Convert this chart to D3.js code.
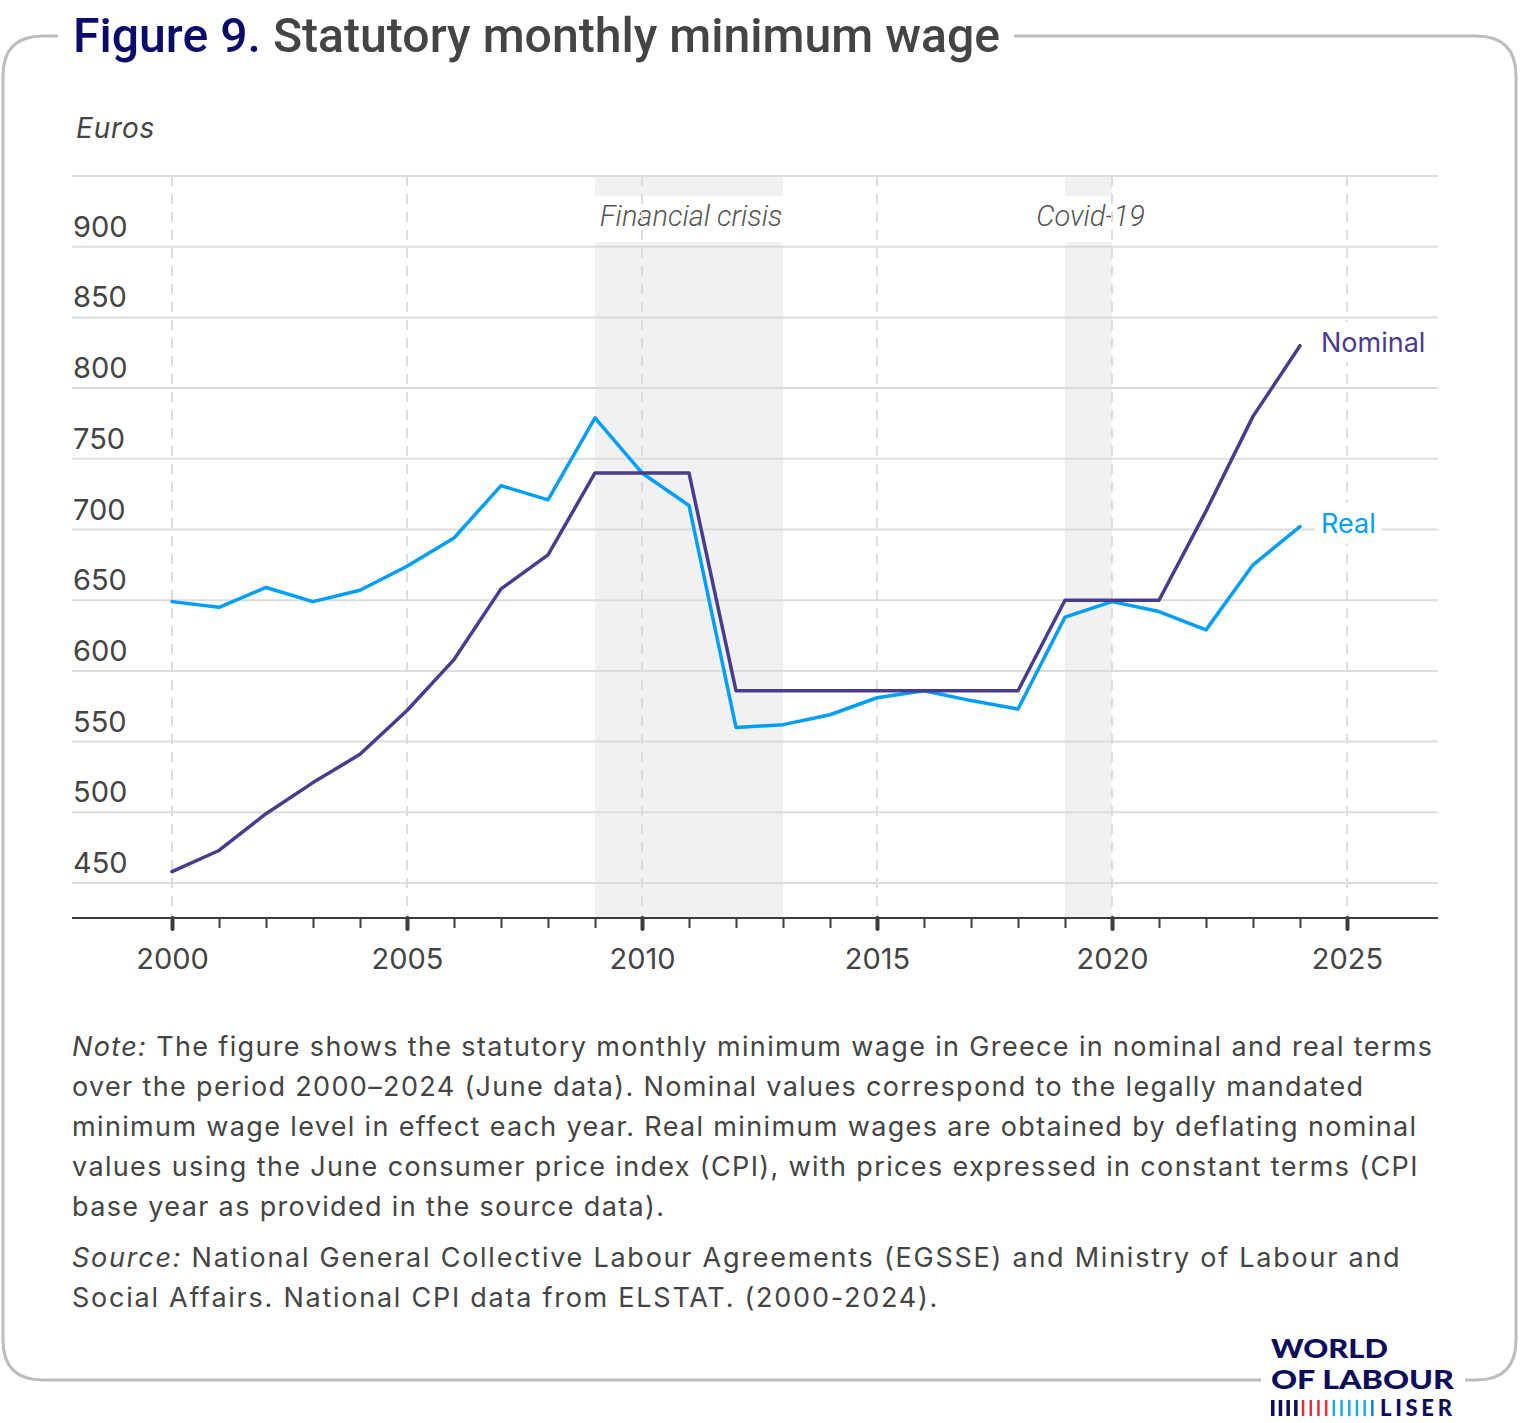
<!DOCTYPE html>
<html>
<head>
<meta charset="utf-8">
<script src="https://d3js.org/d3.v7.min.js"></script>
<style>
  body { margin: 0; background: white; }
  svg { display: block; }
</style>
</head>
<body>
<script>
// data (June data, euros)
var years = [2000, 2001, 2002, 2003, 2004, 2005, 2006, 2007, 2008, 2009, 2010, 2011, 2012,
             2013, 2014, 2015, 2016, 2017, 2018, 2019, 2020, 2021, 2022, 2023, 2024];
var nominal = [458, 473, 499, 521, 541, 572, 608, 658, 682, 740, 740, 740, 586,
               586, 586, 586, 586, 586, 586, 650, 650, 650, 713, 780, 830];
var real = [649, 645, 659, 649, 657, 674, 694, 731, 721, 779, 740, 717, 560,
            562, 569, 581, 586, 579, 573, 638, 649, 642, 629, 675, 702];
var yTicks = [450, 500, 550, 600, 650, 700, 750, 800, 850, 900, 950];
var xTicks = [2000, 2005, 2010, 2015, 2020, 2025];
var crises = [
  {label: 'Financial crisis', start: 2009, end: 2013},
  {label: 'Covid-19', start: 2019, end: 2020}
];
var noteLines = [
  'The figure shows the statutory monthly minimum wage in Greece in nominal and real terms',
  'over the period 2000\u20132024 (June data). Nominal values correspond to the legally mandated',
  'minimum wage level in effect each year. Real minimum wages are obtained by deflating nominal',
  'values using the June consumer price index (CPI), with prices expressed in constant terms (CPI',
  'base year as provided in the source data).'
];
var sourceLines = [
  'National General Collective Labour Agreements (EGSSE) and Ministry of Labour and',
  'Social Affairs. National CPI data from ELSTAT. (2000-2024).'
];

var purple = '#483c8c';
var blue = '#009ff5';
var grey = '#444';
var font = 'Inter, Roboto, sans-serif';

var svg = d3.select('body').append('svg')
    .attr('width', 1520)
    .attr('height', 1423);

// frame with gaps for title and logo
var r = 40;
svg.append('path')
    .attr('d', 'M58,36 L' + (3 + r) + ',36 Q3,36 3,' + (36 + r) +
               ' L3,' + (1380 - r) + ' Q3,1380 ' + (3 + r) + ',1380 L1261,1380' +
               ' M1465,1380 L' + (1516 - r) + ',1380 Q1516,1380 1516,' + (1380 - r) +
               ' L1516,' + (36 + r) + ' Q1516,36 ' + (1516 - r) + ',36 L1014,36')
    .attr('fill', 'none')
    .attr('stroke', '#bdbdbd')
    .attr('stroke-width', 3);

// title
var title = svg.append('text')
    .attr('x', 73)
    .attr('y', 52)
    .attr('font-family', 'Roboto, sans-serif')
    .attr('font-weight', 500)
    .attr('font-size', 48)
    .attr('textLength', 927)
    .attr('lengthAdjust', 'spacingAndGlyphs');
title.append('tspan').attr('fill', '#0b0b6b').text('Figure 9.');
title.append('tspan').attr('fill', '#444').text(' Statutory monthly minimum wage');

svg.append('text')
    .attr('x', 76)
    .attr('y', 138)
    .attr('font-family', font)
    .attr('font-style', 'italic')
    .attr('font-size', 28)
    .attr('letter-spacing', 0.8)
    .attr('fill', grey)
    .text('Euros');

var x = d3.scaleLinear().domain([2000, 2025]).range([172, 1347]);
var y = d3.scaleLinear().domain([450, 950]).range([883, 176]);
var plotLeft = 72, plotRight = 1438, plotBottom = 918, plotTop = y(950);

// shaded periods, with a gap for their labels
crises.forEach(function(c) {
  svg.append('rect')
      .attr('x', x(c.start))
      .attr('y', plotTop)
      .attr('width', x(c.end) - x(c.start))
      .attr('height', 196 - plotTop)
      .attr('fill', '#f1f1f1');
  svg.append('rect')
      .attr('x', x(c.start))
      .attr('y', 242)
      .attr('width', x(c.end) - x(c.start))
      .attr('height', plotBottom - 242)
      .attr('fill', '#f1f1f1');
  svg.append('text')
      .attr('x', (x(c.start) + x(c.end)) / 2 + 2)
      .attr('y', 226)
      .attr('text-anchor', 'middle')
      .attr('font-family', 'Roboto, sans-serif')
      .attr('font-weight', 300)
      .attr('font-style', 'italic')
      .attr('font-size', 29)
      .attr('fill', '#555')
      .text(c.label);
});

// horizontal grid
svg.append('g').selectAll('line')
    .data(yTicks)
    .join('line')
    .attr('x1', plotLeft)
    .attr('x2', plotRight)
    .attr('y1', function(d) { return y(d); })
    .attr('y2', function(d) { return y(d); })
    .attr('stroke', '#dcdcdc')
    .attr('stroke-width', 2);

// vertical dashed grid
svg.append('g').selectAll('line')
    .data(xTicks)
    .join('line')
    .attr('x1', function(d) { return x(d); })
    .attr('x2', function(d) { return x(d); })
    .attr('y1', plotTop)
    .attr('y2', plotBottom)
    .attr('stroke', '#dcdcdc')
    .attr('stroke-width', 2)
    .attr('stroke-dasharray', '10,8');

// y labels sit above their gridline
svg.append('g').selectAll('text')
    .data(yTicks.slice(0, -1))
    .join('text')
    .attr('x', 73)
    .attr('y', function(d) { return y(d) - 10; })
    .attr('font-family', font)
    .attr('font-size', 29)
    .attr('fill', grey)
    .text(function(d) { return d; });

// x axis
var xAxis = d3.axisBottom(x)
    .tickValues(d3.range(2000, 2026))
    .tickSize(11)
    .tickFormat(function(d) { return d % 5 == 0 ? d : ''; });
var gx = svg.append('g')
    .attr('transform', 'translate(0,' + plotBottom + ')')
    .call(xAxis);
gx.select('.domain').remove();
gx.selectAll('.tick line')
    .attr('stroke', '#3c3c3c')
    .attr('stroke-width', function(d) { return d % 5 == 0 ? 4 : 2; })
    .attr('stroke-linecap', function(d) { return d % 5 == 0 ? 'round' : 'butt'; })
    .attr('y2', function(d) { return d % 5 == 0 ? 11 : 10; });
gx.selectAll('.tick text')
    .attr('y', 51)
    .attr('dy', null)
    .attr('font-family', font)
    .attr('font-size', 29)
    .attr('fill', grey);
svg.append('line')
    .attr('x1', plotLeft)
    .attr('x2', plotRight)
    .attr('y1', plotBottom)
    .attr('y2', plotBottom)
    .attr('stroke', '#3c3c3c')
    .attr('stroke-width', 2);

// lines
var line = d3.line()
    .x(function(d, i) { return x(years[i]); })
    .y(function(d) { return y(d); });

svg.append('path')
    .attr('d', line(real))
    .attr('fill', 'none')
    .attr('stroke', blue)
    .attr('stroke-width', 3.5)
    .attr('stroke-linejoin', 'round')
    .attr('stroke-linecap', 'round');

svg.append('path')
    .attr('d', line(nominal))
    .attr('fill', 'none')
    .attr('stroke', purple)
    .attr('stroke-width', 3.5)
    .attr('stroke-linejoin', 'round')
    .attr('stroke-linecap', 'round');

// end labels with a white backing
var labels = [
  {text: 'Nominal', value: nominal[nominal.length - 1], color: purple},
  {text: 'Real', value: real[real.length - 1], color: blue}
];
labels.forEach(function(l) {
  var t = svg.append('text')
      .attr('x', 1321)
      .attr('y', y(l.value) + 6)
      .attr('font-family', font)
      .attr('font-size', 27)
      .attr('fill', l.color)
      .text(l.text);
  var b = t.node().getBBox();
  svg.insert('rect', function() { return t.node(); })
      .attr('x', b.x - 6)
      .attr('y', b.y - 4)
      .attr('width', b.width + 12)
      .attr('height', b.height + 8)
      .attr('fill', 'white');
});

// note and source
var note = svg.append('text')
    .attr('font-family', font)
    .attr('font-size', 27)
    .attr('letter-spacing', 1.35)
    .attr('fill', grey);
noteLines.forEach(function(s, i) {
  var ts = note.append('tspan').attr('x', 72).attr('y', 1056 + i * 40);
  if (i == 0) {
    ts.append('tspan').attr('font-style', 'italic').text('Note:');
    ts.append('tspan').text(' ' + s);
  } else {
    ts.text(s);
  }
});
sourceLines.forEach(function(s, i) {
  var ts = note.append('tspan')
      .attr('x', 72)
      .attr('y', 1267 + i * 40)
      .attr('letter-spacing', 1.75);
  if (i == 0) {
    ts.append('tspan').attr('font-style', 'italic').text('Source:');
    ts.append('tspan').text(' ' + s);
  } else {
    ts.text(s);
  }
});

// logo
var navy = '#0d0d5c';
svg.append('text')
    .attr('x', 1271)
    .attr('y', 1358)
    .attr('font-family', 'Lato, sans-serif')
    .attr('font-weight', 900)
    .attr('font-size', 27)
    .attr('fill', navy)
    .attr('textLength', 117)
    .attr('lengthAdjust', 'spacingAndGlyphs')
    .text('WORLD');
svg.append('text')
    .attr('x', 1271)
    .attr('y', 1389)
    .attr('font-family', 'Lato, sans-serif')
    .attr('font-weight', 900)
    .attr('font-size', 27)
    .attr('fill', navy)
    .attr('textLength', 183)
    .attr('lengthAdjust', 'spacingAndGlyphs')
    .text('OF LABOUR');
var barColors = [navy, navy, navy, navy, '#e0303c', '#e0303c', '#e0303c', '#e0303c',
                 '#1ea7f0', '#1ea7f0', '#1ea7f0', '#1ea7f0', '#1ea7f0', '#0a7fd0'];
barColors.forEach(function(c, i) {
  svg.append('rect')
      .attr('x', 1271 + i * 7.7)
      .attr('y', 1400)
      .attr('width', i < 4 ? 3.5 : 2.5)
      .attr('height', 16)
      .attr('fill', c);
});
svg.append('text')
    .attr('x', 1380)
    .attr('y', 1416)
    .attr('font-family', 'Lato, sans-serif')
    .attr('font-weight', 900)
    .attr('font-size', 22)
    .attr('fill', navy)
    .attr('textLength', 72)
    .attr('lengthAdjust', 'spacing')
    .text('LISER');
</script>
</body>
</html>
